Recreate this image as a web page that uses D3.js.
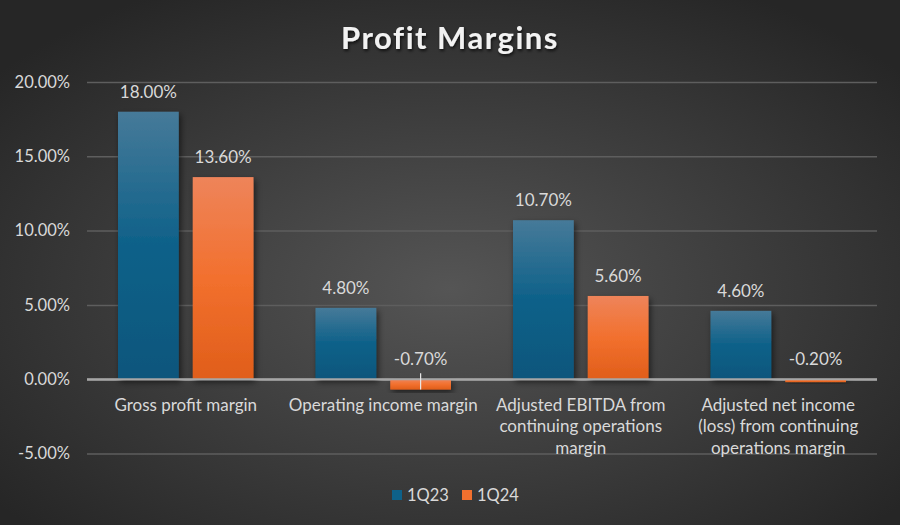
<!DOCTYPE html>
<html><head><meta charset="utf-8">
<script src="https://cdn.jsdelivr.net/npm/d3@7"></script>
<style>body{margin:0;background:#333}svg{display:block}</style>
</head><body>
<script>
const categories = ["Gross profit margin","Operating income margin","Adjusted EBITDA from continuing operations margin","Adjusted net income (loss) from continuing operations margin"];
const categoryLines = [["Gross profit margin"],["Operating income margin"],["Adjusted EBITDA from","continuing operations","margin"],["Adjusted net income","(loss) from continuing","operations margin"]];
const seriesNames = ["1Q23","1Q24"];
const values1Q23 = [18.0, 4.8, 10.7, 4.6];
const values1Q24 = [13.6, -0.7, 5.6, -0.2];
const yTicks = [-5, 0, 5, 10, 15, 20];
const title = "Profit Margins";

const W = 900, H = 525;
const font = "Lato, 'Open Sans', sans-serif";
const svg = d3.select("body").append("svg").attr("width", W).attr("height", H);
const defs = svg.append("defs");
const bg = defs.append("radialGradient").attr("id","bg").attr("cx","0.5").attr("cy","0.55").attr("r","0.65");
bg.append("stop").attr("offset","0").attr("stop-color","#555555");
bg.append("stop").attr("offset","1").attr("stop-color","#262626");
const gB = defs.append("linearGradient").attr("id","gB").attr("x1",0).attr("y1",0).attr("x2",0).attr("y2",1);
gB.append("stop").attr("offset","0").attr("stop-color","#467a99");
gB.append("stop").attr("offset","0.5").attr("stop-color","#0e6189");
gB.append("stop").attr("offset","1").attr("stop-color","#0a567c");
const gO = defs.append("linearGradient").attr("id","gO").attr("x1",0).attr("y1",0).attr("x2",0).attr("y2",1);
gO.append("stop").attr("offset","0").attr("stop-color","#ee845a");
gO.append("stop").attr("offset","0.5").attr("stop-color","#f2702e");
gO.append("stop").attr("offset","1").attr("stop-color","#e05e1a");
const sh = defs.append("filter").attr("id","sh").attr("x","-20%").attr("y","-20%").attr("width","150%").attr("height","150%");
sh.append("feDropShadow").attr("dx",2).attr("dy",3).attr("stdDeviation",3).attr("flood-color","#000").attr("flood-opacity",0.55);
const tsh = defs.append("filter").attr("id","tsh");
tsh.append("feDropShadow").attr("dx",1).attr("dy",2).attr("stdDeviation",1.5).attr("flood-color","#000").attr("flood-opacity",0.7);

svg.append("rect").attr("width",W).attr("height",H).attr("fill","url(#bg)");

const left = 87, right = 877;
const y = d3.scaleLinear().domain([-5, 20]).range([453.5, 82]);
const x0 = d3.scaleBand().domain(categories).range([left, right]).paddingInner(0).paddingOuter(0);
const x1 = d3.scaleBand().domain(seriesNames).range([31, x0.bandwidth() - 31]).paddingInner(0.187);

const fs = "17px";
const yAxis = d3.axisLeft(y).tickValues(yTicks).tickSize(-(right-left)).tickFormat(d => d.toFixed(2) + "%").tickPadding(17);
const ga = svg.append("g").attr("transform", `translate(${left},0)`).call(yAxis);
ga.select(".domain").remove();
ga.selectAll(".tick line").attr("stroke", d => d === 0 ? "#a6a6a6" : "#5e5e5e").attr("stroke-width", d => d === 0 ? 2 : 1.5);
ga.selectAll(".tick text").attr("fill","#d9d9d9").attr("font-family",font).attr("font-size","16.5px");

const series = [{name:"1Q23", vals: values1Q23, fill:"url(#gB)"},{name:"1Q24", vals: values1Q24, fill:"url(#gO)"}];
const g = svg.append("g");
series.forEach(s => {
  s.vals.forEach((v, i) => {
    const bx = x0(categories[i]) + x1(s.name);
    const y0 = y(0), yv = y(v);
    g.append("rect").attr("x", bx).attr("y", Math.min(y0, yv)).attr("width", x1.bandwidth())
      .attr("height", Math.abs(yv - y0)).attr("fill", s.fill).attr("filter","url(#sh)");
    const ly = (v >= 0 ? yv : y0) - 20;
    g.append("text").attr("x", bx + x1.bandwidth()/2).attr("y", ly).attr("dy","0.35em")
      .attr("text-anchor","middle").attr("fill","#d9d9d9").attr("font-family",font).attr("font-size",fs)
      .text(v.toFixed(2) + "%");
  });
});
svg.append("line").attr("x1",left).attr("x2",right).attr("y1",y(0)).attr("y2",y(0)).attr("stroke","#a6a6a6").attr("stroke-width",2);
{
  const i = 1; const bx = x0(categories[i]) + x1("1Q24") + x1.bandwidth()/2;
  svg.append("line").attr("x1",bx).attr("x2",bx).attr("y1",y(0.4)).attr("y2",y(values1Q24[i])).attr("stroke","#e8e8e8").attr("stroke-width",1.2);
}

categoryLines.forEach((lines, i) => {
  const cx = x0(categories[i]) + x0.bandwidth()/2;
  const t = svg.append("text").attr("x", cx).attr("y", 405).attr("text-anchor","middle")
    .attr("fill","#d9d9d9").attr("font-family",font).attr("font-size",fs);
  lines.forEach((l, j) => t.append("tspan").attr("x", cx).attr("dy", j === 0 ? "0.35em" : "21.5px").text(l));
});

svg.append("text").attr("x", 450).attr("y", 38).attr("dy","0.35em").attr("text-anchor","middle")
  .attr("fill","#f2f2f2").attr("font-family",font).attr("font-weight","bold").attr("font-size","31px")
  .attr("letter-spacing","1.5px").attr("filter","url(#tsh)").text(title);

const leg = svg.append("g");
const legX = [392, 462];
series.forEach((s, i) => {
  leg.append("rect").attr("x", legX[i]).attr("y", 490).attr("width", 10).attr("height", 10).attr("fill", i === 0 ? "#0e6189" : "#f2702e");
  leg.append("text").attr("x", legX[i] + 15).attr("y", 495).attr("dy","0.35em").attr("fill","#d9d9d9")
    .attr("font-family",font).attr("font-size","16.5px").text(s.name);
});
</script>
</body></html>
